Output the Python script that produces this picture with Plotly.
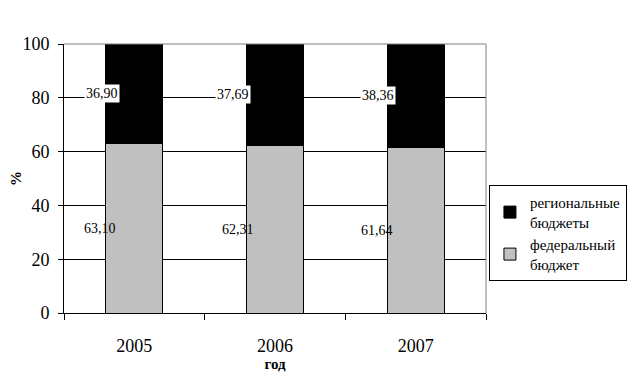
import plotly.graph_objects as go

years = ["2005", "2006", "2007"]
federal = [63.10, 62.31, 61.64]
regional = [36.90, 37.69, 38.36]
federal_labels = ["63,10", "62,31", "61,64"]
regional_labels = ["36,90", "37,69", "38,36"]
label_shift_fed = [-34, -37, -39]
label_shift_reg = [-32, -42, -38]

FONT = "Times New Roman, Liberation Serif, serif"
xpos = list(range(len(years)))
bounds = [p - 0.5 for p in xpos] + [xpos[-1] + 0.5]

fig = go.Figure()
fig.add_trace(go.Bar(x=xpos, y=federal, name="федеральный<br>бюджет",
                     marker_color="#c0c0c0", marker_line_color="black", marker_line_width=1,
                     width=[0.405] * len(years)))
fig.add_trace(go.Bar(x=xpos, y=regional, name="региональные<br>бюджеты",
                     marker_color="black", marker_line_color="black", marker_line_width=1,
                     width=[0.405] * len(years)))

for i in xpos:
    fig.add_annotation(x=i, y=federal[i] / 2, text=federal_labels[i], showarrow=False,
                       xshift=label_shift_fed[i], font=dict(family=FONT, size=14, color="black"))
    fig.add_annotation(x=i, y=federal[i] + regional[i] / 2, text=regional_labels[i], showarrow=False,
                       xshift=label_shift_reg[i], bgcolor="white", borderpad=1,
                       font=dict(family=FONT, size=14, color="black"))

# gray top/right frame of the plot area
fig.add_shape(type="line", xref="paper", yref="paper", x0=0, x1=1, y0=1, y1=1,
              line=dict(color="#808080", width=1))
fig.add_shape(type="line", xref="paper", yref="paper", x0=1, x1=1, y0=0, y1=1,
              line=dict(color="#808080", width=1))

fig.update_layout(
    barmode="stack",
    width=628, height=381,
    margin=dict(l=56, r=150, t=36, b=76, autoexpand=False),
    plot_bgcolor="white", paper_bgcolor="white",
    font=dict(family=FONT, color="black"),
    showlegend=True,
    legend=dict(x=1.334, y=0.297, xanchor="right", yanchor="middle",
                bordercolor="black", borderwidth=1, traceorder="reversed",
                font=dict(family=FONT, size=15, color="black"),
                itemwidth=30, tracegroupgap=6),
    xaxis=dict(range=[-0.5, 2.5], tickvals=xpos, ticktext=years,
               showline=True, linecolor="black", linewidth=1, showgrid=False, zeroline=False,
               ticks="outside", ticklen=16, tickcolor="rgba(0,0,0,0)",
               minor=dict(tickvals=bounds, ticks="outside", ticklen=6, tickcolor="black",
                          showgrid=False),
               tickfont=dict(family=FONT, size=18, color="black"),
               title=dict(text="<b>год</b>", font=dict(family=FONT, size=15), standoff=3)),
    yaxis=dict(range=[0, 100], dtick=20, showline=True, linecolor="black", linewidth=1,
               ticks="outside", ticklen=5, tickcolor="black",
               showgrid=True, gridcolor="black", gridwidth=1, zeroline=False,
               tickfont=dict(family=FONT, size=18, color="black"),
               ticklabelstandoff=5,
               title=dict(text="<b>%</b>", font=dict(family=FONT, size=15), standoff=0)),
)

fig.write_html("out.html")
